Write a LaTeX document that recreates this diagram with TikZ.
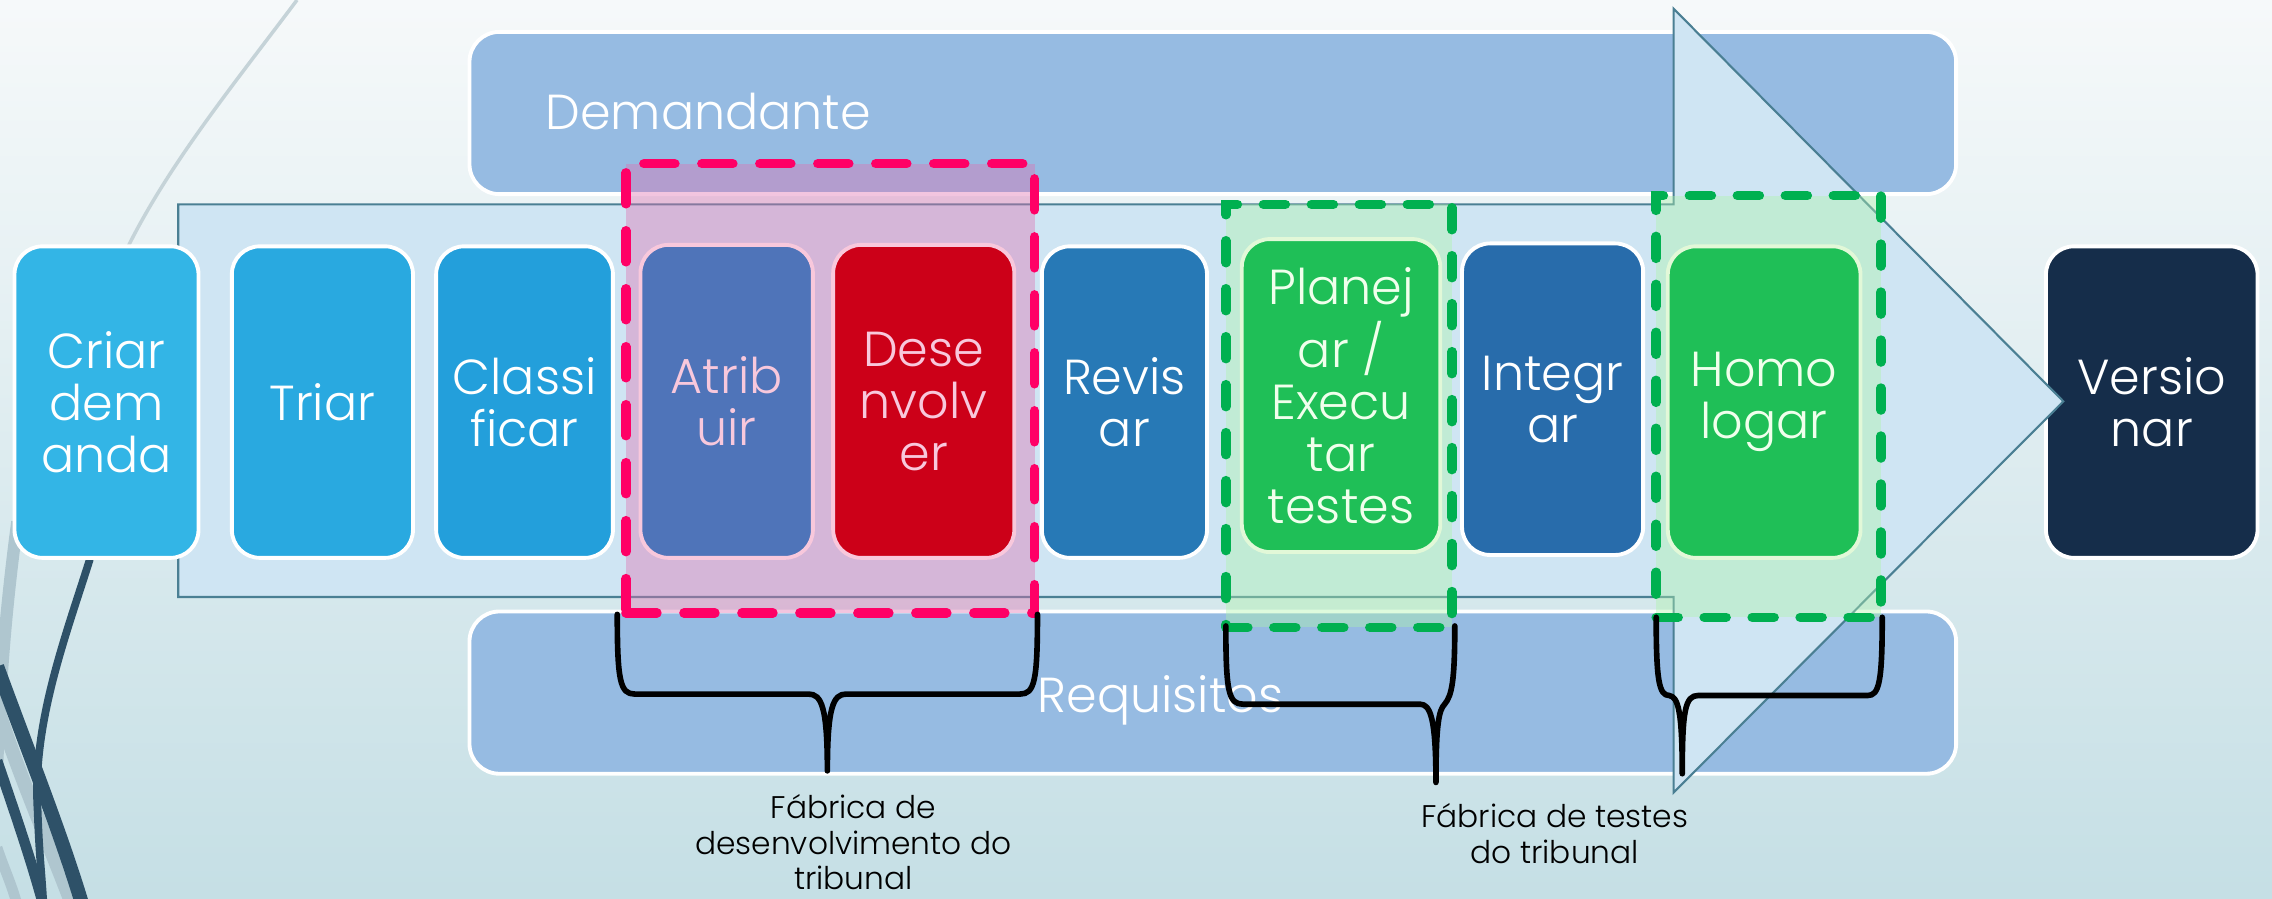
\documentclass[tikz,border=0pt]{standalone}
\usepackage{fontspec}
\IfFontExistsTF{Poppins Light}{\setmainfont{Poppins Light}}{%
  \IfFontExistsTF{Poppins-Light.ttf}{\setmainfont{Poppins-Light.ttf}}{\setmainfont{Poppins}}}
\usetikzlibrary{fit}
\definecolor{bgtop}{HTML}{F6F9FA}
\definecolor{bgbot}{HTML}{C5DFE5}
\definecolor{lanefill}{HTML}{96BBE2}
\definecolor{arrowfill}{HTML}{CFE5F3}
\definecolor{arrowline}{HTML}{4A7F93}
\definecolor{cCriar}{HTML}{33B5E6}
\definecolor{cTriar}{HTML}{29A9E0}
\definecolor{cClass}{HTML}{239FDB}
\definecolor{cAtrib}{HTML}{4F74B9}
\definecolor{cDesen}{HTML}{CC0018}
\definecolor{cRevis}{HTML}{2779B6}
\definecolor{cGreen}{HTML}{1FBF57}
\definecolor{cInteg}{HTML}{286CAB}
\definecolor{cVers}{HTML}{152D4A}
\definecolor{pinktxt}{HTML}{F8C8DC}
\definecolor{greentxt}{HTML}{F0FFEC}
\definecolor{greenline}{HTML}{E2F8D8}
\definecolor{devdash}{HTML}{FF0066}
\definecolor{devfill}{HTML}{E070B0}
\definecolor{testdash}{HTML}{00B050}
\definecolor{testfill}{HTML}{AEF4AA}
\definecolor{decordark}{HTML}{2E5168}
\definecolor{decorlight}{HTML}{AFC6CF}
\definecolor{decorthin}{HTML}{C5D3D8}
\newcommand\procbox[7]{%
  \node[pbox,#1,minimum width={(#5-#3)*0.01449cm},minimum height={(#6-#4)*0.01449cm}]
    (#2) at ({(#3+#5)/2},{(#4+#6)/2}) {#7};}
\begin{document}
\begin{tikzpicture}[x=0.01449cm,y=-0.01449cm,
  pbox/.style={draw=white, line width=1.1pt, rounded corners=0.28cm, inner sep=0pt,
    align=center, text=white, font={\fontsize{14}{14.8}\selectfont}},
  lane/.style={draw=white, line width=1.1pt, fill=lanefill, rounded corners=0.3cm, inner sep=0pt},
  lanetxt/.style={text=white, inner sep=0pt, font={\fontsize{14}{14.8}\selectfont}},
  devgrp/.style={draw=devdash, line width=2.7pt, line cap=round,
    dash pattern=on 0.31cm off 0.27cm, fill=devfill, fill opacity=0.4, inner sep=0pt},
  testgrp/.style={draw=testdash, line width=2.7pt, line cap=round,
    dash pattern=on 0.22cm off 0.26cm, fill=testfill, fill opacity=0.4, inner sep=0pt},
  brace/.style={draw=black, line width=1.6pt, line join=round, line cap=round},
  lbl/.style={text=black, align=center, inner sep=0pt, font={\fontsize{8.9}{10.1}\selectfont}}
]
\useasboundingbox (0,0) rectangle (1568,620);
% background
\shade[top color=bgtop, bottom color=bgbot] (0,0) rectangle (1568,620);
% decoration
\begin{scope}
\clip (0,0) rectangle (1568,620);
\draw[decorthin, line width=1pt] (205,0) .. controls (160,60) and (115,115) .. (86,175);
\draw[decorlight, line width=3.5pt] (12,360) .. controls (4,420) and (0,470) .. (-2,530);
\draw[decorlight, line width=4pt] (-2,488) .. controls (15,540) and (35,585) .. (50,625);
\draw[decorlight, line width=3pt] (-2,585) .. controls (3,600) and (8,610) .. (12,625);
\draw[decordark, line width=2.2pt] (62,386) .. controls (45,440) and (22,500) .. (26,560) .. controls (27,590) and (29,605) .. (30,625);
\draw[decordark, line width=4pt] (-2,460) .. controls (20,520) and (42,575) .. (57,625);
\draw[decordark, line width=3pt] (-2,525) .. controls (10,560) and (22,595) .. (30,625);
\end{scope}
% lanes
\node[lane, fit={(324,22)(1350,134)}] (dem) {};
\node[lanetxt, anchor=west] (demtxt) at (376,77) {Demandante};
\node[lane, fit={(324,422)(1350,534)}] (req) {};
% last step (under the arrow tip)
\procbox{fill=cVers}{vers}{1412}{170}{1558}{385}{Versio\\nar}
% big arrow
\draw[fill=arrowfill, draw=arrowline, line width=0.6pt, line join=miter]
  (123,141) -- (1155,141) -- (1155,6) -- (1424,277) -- (1155,547) -- (1155,412) -- (123,412) -- cycle;
% groups
\node[devgrp, fit={(432,113)(714,423)}] (grpdev) {};
\node[testgrp, fit={(846,141)(1002,433)}] (grptesta) {};
\node[testgrp, fit={(1143,135)(1298,426)}] (grptestb) {};
% requisitos text
\node[lanetxt, anchor=mid] (reqtxt) at (801,485) {Requisitos};
% process boxes
\procbox{fill=cCriar}{criar}{10}{170}{137}{385}{Criar\\dem\\anda}
\procbox{fill=cTriar}{triar}{160}{170}{285}{385}{Triar}
\procbox{fill=cClass}{classi}{301}{170}{423}{385}{Classi\\ficar}
\procbox{fill=cAtrib, draw=pinktxt, text=pinktxt}{atrib}{442}{169}{561}{385}{Atrib\\uir}
\procbox{fill=cDesen, draw=pinktxt, text=pinktxt}{desen}{575}{169}{700}{385}{Dese\\nvolv\\er}
\procbox{fill=cRevis}{revis}{719}{170}{833}{385}{Revis\\ar}
\procbox{fill=cGreen, draw=greenline, text=greentxt}{plan}{857}{165}{994}{381}{Planej\\ar /\\Execu\\tar\\testes}
\procbox{fill=cInteg}{integ}{1009}{168}{1134}{383}{Integr\\ar}
\procbox{fill=cGreen, draw=greenline, text=greentxt}{homo}{1151}{170}{1284}{385}{Homo\\logar}
% braces
\draw[brace] (426,424) .. controls (426,470) and (428,479) .. (438,479) -- (558,479)
  .. controls (567,479) and (571,488) .. (571,532)
  .. controls (571,488) and (575,479) .. (584,479) -- (704,479)
  .. controls (714,479) and (716,470) .. (716,424);
\draw[brace] (846,432) .. controls (846,478) and (848,486) .. (858,486) -- (980,486)
  .. controls (987,486) and (991,495) .. (991,540)
  .. controls (991,500) and (993,490) .. (997,486)
  .. controls (1002,480) and (1004,470) .. (1004,432);
\draw[brace] (1143,426) .. controls (1143,470) and (1145,480) .. (1152,480)
  .. controls (1158,481) and (1161,490) .. (1161,534)
  .. controls (1161,490) and (1163,480) .. (1172,480) -- (1289,480)
  .. controls (1297,480) and (1299,470) .. (1299,426);
% labels
\node[lbl, anchor=north] (lbldev) at (589,548) {Fábrica de\\desenvolvimento do\\tribunal};
\node[lbl, anchor=north] (lbltest) at (1073,554) {Fábrica de testes\\do tribunal};
\end{tikzpicture}
\end{document}
